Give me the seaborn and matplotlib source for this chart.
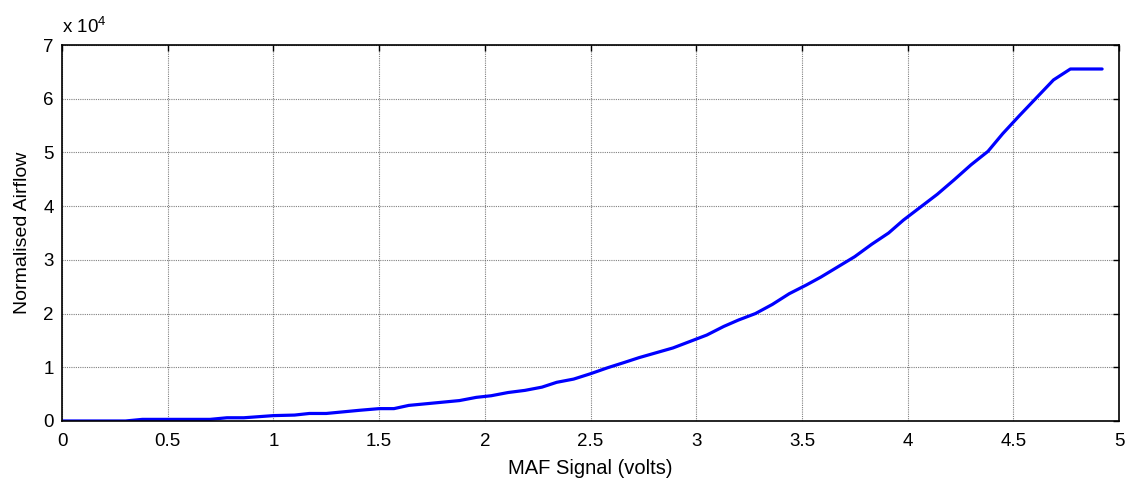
import pandas as pd
import matplotlib.pyplot as plt
import seaborn as sns

sns.set_theme(style="white")
plt.rcParams['font.family'] = ['Liberation Sans', 'DejaVu Sans']
plt.rcParams['text.color'] = 'black'
plt.rcParams['axes.labelcolor'] = 'black'
plt.rcParams['xtick.color'] = 'black'
plt.rcParams['ytick.color'] = 'black'

# MAF transfer curve
volts = [0.0, 0.30, 0.38, 0.70, 0.78, 0.86, 1.00, 1.10, 1.17, 1.25, 1.33, 1.41,
         1.50, 1.57, 1.64, 1.72, 1.80, 1.88, 1.96, 2.03, 2.11, 2.19, 2.27, 2.34,
         2.42, 2.50, 2.58, 2.66, 2.73, 2.81, 2.89, 2.97, 3.05, 3.13, 3.20, 3.28,
         3.36, 3.44, 3.52, 3.59, 3.67, 3.75, 3.83, 3.91, 3.98, 4.06, 4.14, 4.22,
         4.30, 4.38, 4.45, 4.53, 4.61, 4.69, 4.77, 4.92]
airflow = [0, 0, 300, 300, 600, 600, 1000, 1100, 1400, 1400, 1700, 2000,
           2300, 2300, 2900, 3200, 3500, 3800, 4400, 4700, 5300, 5700, 6300, 7200,
           7800, 8800, 9900, 10900, 11800, 12700, 13600, 14800, 16000, 17600, 18800, 20000,
           21700, 23700, 25300, 26800, 28700, 30600, 32900, 35000, 37400, 39800, 42200, 44900,
           47700, 50200, 53500, 56900, 60200, 63500, 65535, 65535]

x_ticks = [0, 0.5, 1, 1.5, 2, 2.5, 3, 3.5, 4, 4.5, 5]
x_labels = ['0', '0.5', '1', '1.5', '2', '2.5', '3', '3.5', '4', '4.5', '5']
y_ticks = [0, 10000, 20000, 30000, 40000, 50000, 60000, 70000]
y_labels = ['0', '1', '2', '3', '4', '5', '6', '7']

df = pd.DataFrame({'volts': volts, 'airflow': airflow})

fig = plt.figure(figsize=(11.26, 4.83), dpi=100)
ax = fig.add_axes([0.0551, 0.1284, 0.9387, 0.7784])

sns.lineplot(data=df, x='volts', y='airflow', ax=ax, color='#0000ff',
             linewidth=2.3, sort=False)

ax.set_xlim(0, 5)
ax.set_ylim(0, 70000)
ax.set_xticks(x_ticks)
ax.set_xticklabels(x_labels)
ax.set_yticks(y_ticks)
ax.set_yticklabels(y_labels)

ax.grid(True, color='#555555', linestyle=(0, (1, 1)), linewidth=0.8, alpha=0.75)
ax.tick_params(direction='in', top=True, right=True, length=4, width=1,
               color='black', labelcolor='black', labelsize=13.5)
ax.tick_params(axis='x', pad=9)
ax.tick_params(axis='y', pad=6)
for s in ax.spines.values():
    s.set_color('black')
    s.set_linewidth(1.2)

ax.set_xlabel('MAF Signal (volts)', fontsize=14.5, labelpad=6, color='black')
ax.set_ylabel('Normalised Airflow', fontsize=14, labelpad=9, color='black')
ax.text(0.0, 1.022, r'x 10$^{\mathregular{4}}$', transform=ax.transAxes,
        fontsize=13.5, ha='left', va='bottom', color='black')

fig.savefig('out.png', dpi=100)
